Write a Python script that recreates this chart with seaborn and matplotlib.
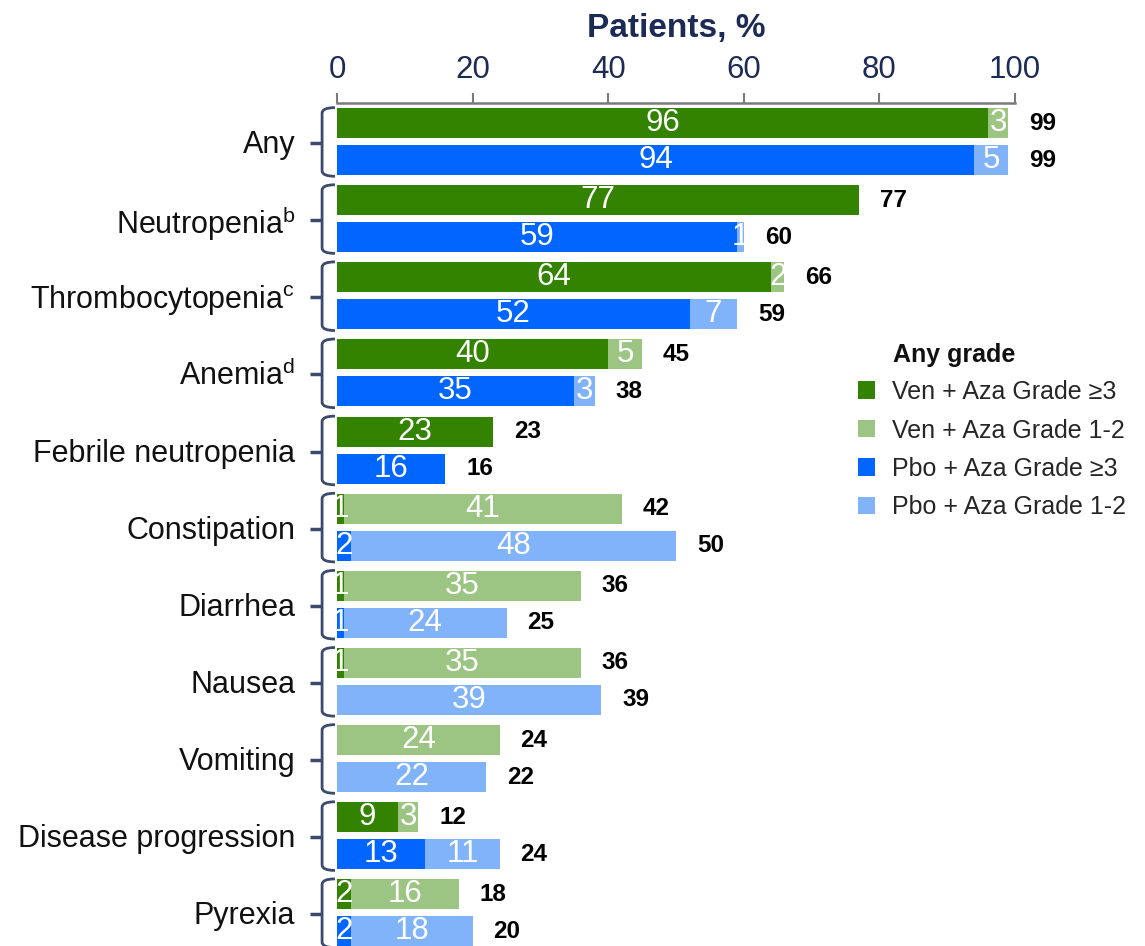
import numpy as np
import pandas as pd
import matplotlib
matplotlib.use("Agg")
import matplotlib.pyplot as plt
from matplotlib.path import Path
from matplotlib.patches import PathPatch, Patch
from matplotlib import font_manager
import seaborn as sns

# ---------------- data ----------------
categories = ["Any", "Neutropenia$^{\\mathrm{b}}$", "Thrombocytopenia$^{\\mathrm{c}}$",
              "Anemia$^{\\mathrm{d}}$", "Febrile neutropenia", "Constipation", "Diarrhea",
              "Nausea", "Vomiting", "Disease progression", "Pyrexia"]
arms = ["Ven + Aza", "Pbo + Aza"]
ven_g3 = [96, 77, 64, 40, 23, 1, 1, 1, 0, 9, 2]
ven_g12 = [3, 0, 2, 5, 0, 41, 35, 35, 24, 3, 16]
ven_total = [99, 77, 66, 45, 23, 42, 36, 36, 24, 12, 18]
pbo_g3 = [94, 59, 52, 35, 16, 2, 1, 0, 0, 13, 2]
pbo_g12 = [5, 1, 7, 3, 0, 48, 24, 39, 22, 11, 18]
pbo_total = [99, 60, 59, 38, 16, 50, 25, 39, 22, 24, 20]
xticks = [0, 20, 40, 60, 80, 100]
legend_labels = ["Ven + Aza Grade \u22653", "Ven + Aza Grade 1-2",
                 "Pbo + Aza Grade \u22653", "Pbo + Aza Grade 1-2"]

# ---------------- style ----------------
sns.set_theme(style="white")
avail = {f.name for f in font_manager.fontManager.ttflist}
base = "Liberation Sans" if "Liberation Sans" in avail else "DejaVu Sans"
if "Liberation Sans Narrow" in avail:
    narrow, nsize = "Liberation Sans Narrow", 23.5
else:
    narrow, nsize = base, 22.5
plt.rcParams["font.family"] = [base, "DejaVu Sans"]
plt.rcParams["mathtext.fontset"] = "custom"
plt.rcParams["mathtext.rm"] = base
plt.rcParams["mathtext.it"] = base

DARK_GREEN = "#338300"
LIGHT_GREEN = "#9CC584"
DARK_BLUE = "#0066FF"
LIGHT_BLUE = "#80B3FA"
NAVY = "#1C2B55"
BRACE = "#3B4A6E"

df = pd.DataFrame({
    "category": categories * 2,
    "arm": [arms[0]] * len(categories) + [arms[1]] * len(categories),
    "g3": ven_g3 + pbo_g3,
    "g12": ven_g12 + pbo_g12,
    "total": ven_total + pbo_total,
})

W, H = 1145, 946
fig = plt.figure(figsize=(W / 100, H / 100), dpi=100)
ax = fig.add_axes([337 / W, 0.0, 678 / W, 843 / H])

common = dict(data=df, y="category", hue="arm", order=categories, hue_order=arms,
              orient="h", dodge=True, width=0.96, gap=0.19, saturation=1,
              errorbar=None, legend=False, linewidth=0, ax=ax)
sns.barplot(x="total", palette=[LIGHT_GREEN, LIGHT_BLUE], **common)
sns.barplot(x="g3", palette=[DARK_GREEN, DARK_BLUE], **common)

ax.set_xlim(0, 100)
ax.set_ylim(10.43, -0.5)

# ---------------- labels ----------------
series = [(ven_g3, ven_g12, ven_total), (pbo_g3, pbo_g12, pbo_total)]
for k, (g3s, g12s, tots) in enumerate(series):
    bars = ax.containers[k]
    for i, bar in enumerate(bars):
        yc = bar.get_y() + bar.get_height() / 2
        g3, g12, tot = g3s[i], g12s[i], tots[i]
        if g3 > 0:
            ax.text(g3 / 2, yc, str(g3), ha="center", va="center", color="white",
                    fontsize=nsize, family=[narrow, "DejaVu Sans"])
        if g12 > 0:
            ax.text(g3 + g12 / 2, yc, str(g12), ha="center", va="center",
                    color="white", fontsize=nsize, family=[narrow, "DejaVu Sans"])
        ax.annotate(str(tot), xy=(tot, yc), xytext=(15, 0), textcoords="offset points",
                    ha="left", va="center", fontsize=17.5, fontweight="bold",
                    color="black", annotation_clip=False)

# ---------------- axes styling ----------------
ax.xaxis.tick_top()
ax.xaxis.set_label_position("top")
ax.set_xticks(xticks)
ax.set_xticklabels([str(t) for t in xticks], family=[narrow, "DejaVu Sans"])
ax.tick_params(axis="x", which="major", direction="out", length=7, width=1.5,
               color="#7A7A7A", labelsize=nsize, labelcolor=NAVY, pad=6, top=True,
               bottom=False)
ax.set_xlabel("Patients, %", fontsize=24, fontweight="bold", color=NAVY, labelpad=13)
ax.set_ylabel("")
ax.set_yticks(range(len(categories)))
ax.set_yticklabels(categories)
ax.tick_params(axis="y", length=0, labelsize=22, labelcolor="#111111", pad=30)
for s in ["left", "right", "bottom"]:
    ax.spines[s].set_visible(False)
ax.spines["top"].set_color("#7A7A7A")
ax.spines["top"].set_linewidth(1.8)
ax.grid(False)

# ---------------- braces ----------------
xh, xv, xt = -0.3, -2.2, -4.0
for i in range(len(categories)):
    top, bot = i - 0.44, i + 0.45
    r = 0.07
    verts = [(xh, top), (xv, top), (xv, top + r), (xv, bot - r), (xv, bot), (xh, bot)]
    codes = [Path.MOVETO, Path.CURVE3, Path.CURVE3, Path.LINETO, Path.CURVE3, Path.CURVE3]
    ax.add_patch(PathPatch(Path(verts, codes), fill=False, edgecolor=BRACE, lw=2,
                           clip_on=False))
    ax.plot([xt, xv], [i + 0.02, i + 0.02], color=BRACE, lw=2.5, clip_on=False,
            solid_capstyle="butt")

# ---------------- legend ----------------
handles = [Patch(facecolor=c, edgecolor="none")
           for c in [DARK_GREEN, LIGHT_GREEN, DARK_BLUE, LIGHT_BLUE]]
fig.text(893 / W, 1 - 355 / H, "Any grade", fontsize=18, fontweight="bold",
         ha="left", va="center", color="#111111")
fig.legend(handles, legend_labels, loc="upper left",
           bbox_to_anchor=(858 / W, 1 - 380 / H), frameon=False, fontsize=18,
           handlelength=0.7, handleheight=0.7, handletextpad=0.65,
           labelspacing=0.58, borderaxespad=0, borderpad=0)

fig.savefig("out.png", dpi=100)
